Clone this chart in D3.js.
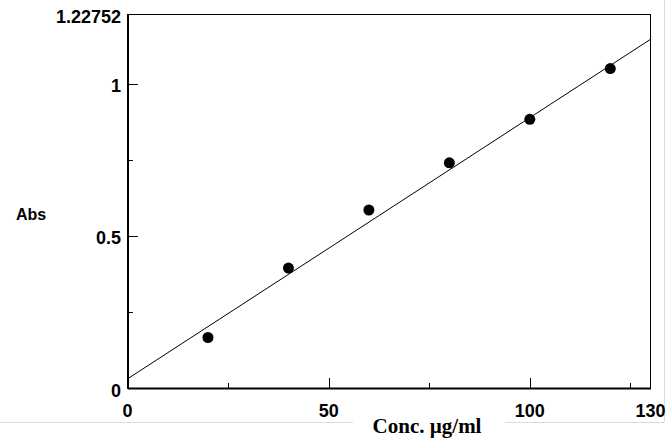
<!DOCTYPE html>
<html>
<head>
<meta charset="utf-8">
<script src="https://cdn.jsdelivr.net/npm/d3@7"></script>
<style>
    body { margin: 0; background: #fff; }
</style>
</head>
<body>
<div id="canvas"></div>
<script>
// datos
var concentraciones = [20, 40, 60, 80, 100, 120];
var absorbancias = [0.166, 0.394, 0.585, 0.740, 0.883, 1.050];
var rectaX = [0, 130];
var rectaY = [0.03, 1.146];
var ticksX = [0, 50, 100, 130];
var etiquetasX = ["0", "50", "100", "130"];
var ticksXMayores = [50, 100];
var ticksXMenores = [25, 75, 125];
var ticksY = [0, 0.5, 1, 1.22752];
var etiquetasY = ["0", "0.5", "1", "1.22752"];
var ticksYMayores = [0.5, 1];
var ticksYMenores = [0.25, 0.75];

var width = 668;
var height = 438;

var svg = d3.select("#canvas").append("svg")
    .attr("width", width)
    .attr("height", height);

var x = d3.scaleLinear()
    .domain([0, 130])
    .range([127.5, 650.5]);

var y = d3.scaleLinear()
    .domain([0, 1.22752])
    .range([388, 14.5]);

// bordes grises de la ventana
svg.append("line")
    .attr("x1", 0).attr("x2", 664)
    .attr("y1", 422.5).attr("y2", 422.5)
    .attr("stroke", "#dcdcdc");
svg.append("line")
    .attr("x1", 664.5).attr("x2", 664.5)
    .attr("y1", 0).attr("y2", 422)
    .attr("stroke", "#dcdcdc");

// marco
svg.append("rect")
    .attr("x", x(0))
    .attr("y", y(1.22752))
    .attr("width", x(130) - x(0))
    .attr("height", y(0) - y(1.22752))
    .attr("fill", "none")
    .attr("stroke", "#000")
    .attr("shape-rendering", "crispEdges");

var ejeX = svg.append("g")
    .attr("transform", "translate(0," + y(0) + ")")
    .call(d3.axisBottom(x).tickValues(ticksXMayores).tickSize(-10).tickSizeOuter(0).tickFormat(""));
ejeX.select(".domain").attr("stroke-width", 2);

svg.append("g")
    .attr("transform", "translate(0," + y(0) + ")")
    .call(d3.axisBottom(x).tickValues(ticksXMenores).tickSize(-5).tickSizeOuter(0).tickFormat(""))
    .select(".domain").remove();

var ejeY = svg.append("g")
    .attr("transform", "translate(" + x(0) + ",0)")
    .call(d3.axisLeft(y).tickValues(ticksYMayores).tickSize(-10).tickSizeOuter(0).tickFormat(""));
ejeY.select(".domain").attr("stroke-width", 2);

svg.append("g")
    .attr("transform", "translate(" + x(0) + ",0)")
    .call(d3.axisLeft(y).tickValues(ticksYMenores).tickSize(-5).tickSizeOuter(0).tickFormat(""))
    .select(".domain").remove();

svg.selectAll(".tick line").attr("shape-rendering", "crispEdges");

// etiquetas de los ejes
svg.selectAll(".etiquetaX")
    .data(ticksX)
    .enter().append("text")
    .attr("class", "etiquetaX")
    .attr("x", function(d) { return x(d); })
    .attr("y", y(0) + 29)
    .attr("text-anchor", "middle")
    .attr("font-family", "'Liberation Sans', Arial, sans-serif")
    .attr("font-weight", "bold")
    .attr("font-size", "18px")
    .text(function(d, i) { return etiquetasX[i]; });

svg.selectAll(".etiquetaY")
    .data(ticksY)
    .enter().append("text")
    .attr("class", "etiquetaY")
    .attr("x", 121)
    .attr("y", function(d) { return y(d) + 8.5; })
    .attr("text-anchor", "end")
    .attr("font-family", "'Liberation Sans', Arial, sans-serif")
    .attr("font-weight", "bold")
    .attr("font-size", "18px")
    .text(function(d, i) { return etiquetasY[i]; });

svg.append("text")
    .attr("x", 16)
    .attr("y", 219.5)
    .attr("font-family", "'Liberation Sans', Arial, sans-serif")
    .attr("font-weight", "bold")
    .attr("font-size", "16px")
    .text("Abs");

svg.append("rect")
    .attr("x", 353).attr("y", 412)
    .attr("width", 152).attr("height", 26)
    .attr("fill", "#fff");

svg.append("text")
    .attr("x", 427)
    .attr("y", 433)
    .attr("text-anchor", "middle")
    .attr("font-family", "'Liberation Serif', 'Times New Roman', serif")
    .attr("font-weight", "bold")
    .attr("font-size", "21px")
    .text("Conc. µg/ml");

// recta de calibrado
var datosRecta = rectaX.map(function(d, i) { return { x: d, y: rectaY[i] }; });
var linea = d3.line()
    .x(function(d) { return x(d.x); })
    .y(function(d) { return y(d.y); });

svg.append("path")
    .datum(datosRecta)
    .attr("d", linea)
    .attr("fill", "none")
    .attr("stroke", "#000")
    .attr("stroke-width", 1);

// puntos
var puntos = concentraciones.map(function(d, i) { return { x: d, y: absorbancias[i] }; });
svg.selectAll(".punto")
    .data(puntos)
    .enter().append("circle")
    .attr("class", "punto")
    .attr("cx", function(d) { return x(d.x); })
    .attr("cy", function(d) { return y(d.y); })
    .attr("r", 5.5)
    .attr("fill", "#000");
</script>
</body>
</html>
